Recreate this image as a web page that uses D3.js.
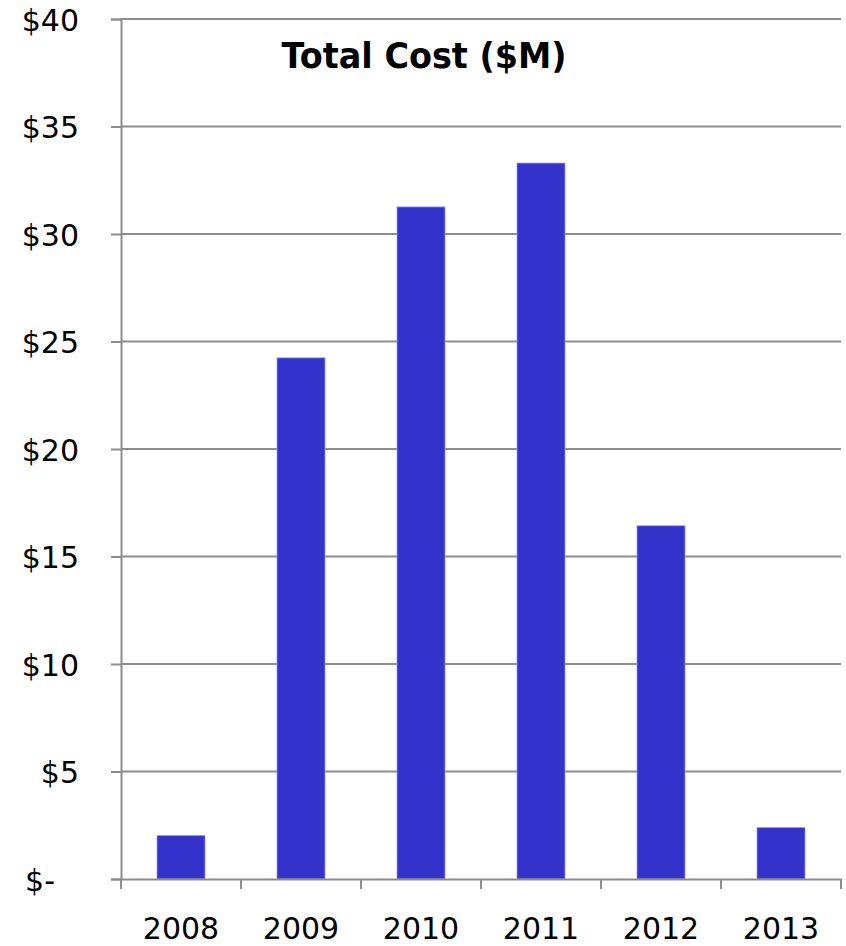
<!DOCTYPE html>
<html>
<head>
<meta charset="utf-8">
<script src="https://cdn.jsdelivr.net/npm/d3@7/dist/d3.min.js"></script>
<style>
  html, body { margin: 0; padding: 0; background: #fff; }
  svg { display: block; }
</style>
</head>
<body>
<svg id="chart" width="846" height="946"></svg>
<script>
// Total cost per year, in millions of dollars
const years = ["2008", "2009", "2010", "2011", "2012", "2013"];
const costs = [2.02, 24.24, 31.26, 33.3, 16.43, 2.39];
const yTicks = [0, 5, 10, 15, 20, 25, 30, 35, 40];
const yTickLabels = ["$-", "$5", "$10", "$15", "$20", "$25", "$30", "$35", "$40"];
const title = "Total Cost ($M)";

const W = 846, H = 946;
const margin = { left: 121, right: 5, top: 19, bottom: 67 };
const plotW = W - margin.left - margin.right;
const plotH = H - margin.top - margin.bottom;

const svg = d3.select("#chart");
const g = svg.append("g").attr("transform", `translate(${margin.left},${margin.top})`);

const x = d3.scaleBand().domain(years).range([0, plotW]).paddingInner(0.6).paddingOuter(0.3);
const y = d3.scaleLinear().domain([0, 40]).range([plotH, 0]);

const gridColor = "#8c8c8c";
const font = "'DejaVu Sans', Verdana, sans-serif";

// horizontal gridlines
g.append("g")
  .selectAll("line")
  .data(yTicks.filter(v => v > 0))
  .join("line")
  .attr("x1", 0).attr("x2", plotW)
  .attr("y1", d => y(d)).attr("y2", d => y(d))
  .attr("stroke", gridColor).attr("stroke-width", 2);

// y axis
const yAxis = g.append("g")
  .call(d3.axisLeft(y)
    .tickValues(yTicks)
    .tickSize(10)
    .tickPadding(32)
    .tickFormat((d, i) => yTickLabels[i]));
yAxis.select(".domain").attr("stroke", gridColor).attr("stroke-width", 2);
yAxis.selectAll(".tick line").attr("stroke", gridColor).attr("stroke-width", 2);
yAxis.selectAll(".tick text")
  .attr("font-family", font).attr("font-size", 30).attr("fill", "#000")
  .attr("dy", "0.37em")
  .attr("dx", d => d === 0 ? -24 : 0);

// bars
g.append("g")
  .selectAll("rect")
  .data(years.map((yr, i) => ({ yr, v: costs[i] })))
  .join("rect")
  .attr("x", d => x(d.yr))
  .attr("width", x.bandwidth())
  .attr("y", d => y(d.v))
  .attr("height", d => plotH - y(d.v))
  .attr("fill", "#3333cc")
  .attr("stroke", "#9a9ae6")
  .attr("stroke-width", 0.8);

// x axis with category labels
const xAxis = g.append("g")
  .attr("transform", `translate(0,${plotH})`)
  .call(d3.axisBottom(x).tickSize(0).tickPadding(39));
xAxis.select(".domain").attr("stroke", gridColor).attr("stroke-width", 2);
xAxis.selectAll(".tick text")
  .attr("font-family", font).attr("font-size", 30).attr("fill", "#000");

// tick marks on the category boundaries
const boundaries = years.map(d => x(d) - x.step() * x.paddingInner() / 2)
  .concat([x(years[years.length - 1]) + x.bandwidth() + x.step() * x.paddingInner() / 2]);
xAxis.append("g")
  .selectAll("line")
  .data(boundaries)
  .join("line")
  .attr("x1", d => d).attr("x2", d => d)
  .attr("y1", 0).attr("y2", 10)
  .attr("stroke", gridColor).attr("stroke-width", 2);

// title
svg.append("text")
  .attr("x", 424).attr("y", 68)
  .attr("text-anchor", "middle")
  .attr("font-family", font).attr("font-weight", "bold")
  .attr("font-size", 36)
  .attr("textLength", 285).attr("lengthAdjust", "spacingAndGlyphs")
  .attr("fill", "#000")
  .text(title);
</script>
</body>
</html>
